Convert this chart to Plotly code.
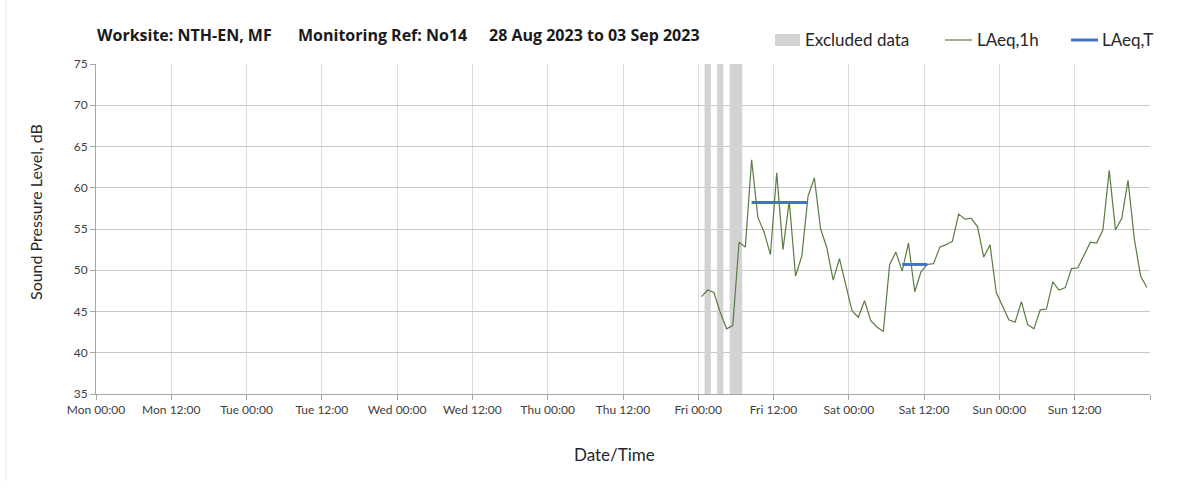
import plotly.graph_objects as go
from datetime import datetime, timedelta

# ---------------- data ----------------
start_day = datetime(2023, 8, 28)          # Monday
first_point = datetime(2023, 9, 1, 0, 30)  # Fri 00:30 (hourly values, mid-hour)

laeq_1h = [
    46.8, 47.6, 47.3, 44.9, 42.9, 43.3, 53.4, 52.8, 63.4, 56.4, 54.6, 51.9,
    61.8, 52.5, 58.4, 49.3, 51.7, 59.0, 61.2, 55.0, 52.7, 48.8, 51.4, 48.1,
    45.1, 44.3, 46.3, 43.9, 43.1, 42.6, 50.7, 52.2, 49.9, 53.3, 47.4, 49.8,
    50.7, 50.8, 52.8, 53.1, 53.5, 56.8, 56.2, 56.3, 55.3, 51.6, 53.1, 47.3,
    45.7, 44.0, 43.7, 46.2, 43.4, 42.9, 45.2, 45.3, 48.6, 47.6, 47.9, 50.2,
    50.3, 51.8, 53.4, 53.3, 54.9, 62.1, 54.9, 56.3, 60.9, 53.8, 49.3, 47.9,
]
times_1h = [first_point + timedelta(hours=i) for i in range(len(laeq_1h))]

laeq_t_start = ["2023-09-01 08:30", "2023-09-02 08:30"]
laeq_t_end = ["2023-09-01 17:30", "2023-09-02 12:30"]
laeq_t_values = [58.2, 50.7]

excluded_start = ["2023-09-01 01:00", "2023-09-01 03:00", "2023-09-01 05:00"]
excluded_end = ["2023-09-01 02:00", "2023-09-01 04:00", "2023-09-01 07:00"]

tick_vals = [start_day + timedelta(hours=12 * i) for i in range(15)]
tick_text = [t.strftime("%a %H:%M") for t in tick_vals[:-1]] + [""]

y_range = [35, 75]
y_ticks = list(range(35, 80, 5))

title_parts = ["Worksite: NTH-EN, MF", "Monitoring Ref: No14", "28 Aug 2023 to 03 Sep 2023"]
legend_names = ["Excluded data", "LAeq,1h", "LAeq,T"]

# ---------------- styling ----------------
W, H = 1203, 489
ML, MR, MT, MB = 96, 53, 64, 95
PW, PH = W - ML - MR, H - MT - MB
FONT = "Lato, 'Open Sans', sans-serif"
TFONT = "'Open Sans', Lato, sans-serif"
GREEN = "#5b7b45"
BLUE = "#4472C4"
GREY = "#d3d3d3"


def px_x(p):
    return (p - ML) / PW


def px_y(p):
    return (H - MB - p) / PH


fig = go.Figure()

for xs, xe in zip(excluded_start, excluded_end):
    fig.add_shape(type="rect", xref="x", yref="y", x0=xs, x1=xe,
                  y0=y_range[0], y1=y_range[1], fillcolor=GREY,
                  line_width=0, layer="between")

fig.add_trace(go.Scatter(x=times_1h, y=laeq_1h, mode="lines",
                         line=dict(color=GREEN, width=1.2),
                         name=legend_names[1], showlegend=False))

for xs, xe, v in zip(laeq_t_start, laeq_t_end, laeq_t_values):
    fig.add_trace(go.Scatter(x=[xs, xe], y=[v, v], mode="lines",
                             line=dict(color=BLUE, width=3),
                             name=legend_names[2], showlegend=False))

annotations = []
# title pieces
for txt, xp in zip(title_parts, [95, 296, 487]):
    annotations.append(dict(text="<b>%s</b>" % txt, x=px_x(xp), y=px_y(35),
                            xref="paper", yref="paper", xanchor="left",
                            yanchor="middle", showarrow=False,
                            font=dict(family=TFONT, size=16, color="#1a1a1a")))
# legend texts
for txt, xp in zip(legend_names, [803, 975, 1100]):
    annotations.append(dict(text=txt, x=px_x(xp), y=px_y(40),
                            xref="paper", yref="paper", xanchor="left",
                            yanchor="middle", showarrow=False,
                            font=dict(family=FONT, size=17, color="#262626")))
# axis titles
annotations.append(dict(text="Date/Time", x=px_x(614), y=px_y(454),
                        xref="paper", yref="paper", xanchor="center",
                        yanchor="middle", showarrow=False,
                        font=dict(family=FONT, size=17, color="#262626")))
annotations.append(dict(text="Sound Pressure Level, dB", x=px_x(35), y=px_y(212),
                        xref="paper", yref="paper", xanchor="center",
                        yanchor="middle", showarrow=False, textangle=-90,
                        font=dict(family=FONT, size=16, color="#262626")))

shapes = [
    # legend: excluded patch
    dict(type="rect", xref="paper", yref="paper", x0=px_x(775), x1=px_x(800),
         y0=px_y(46), y1=px_y(34), fillcolor=GREY, line_width=0),
    dict(type="line", xref="paper", yref="paper", x0=px_x(945), x1=px_x(972),
         y0=px_y(40), y1=px_y(40), line=dict(color=GREEN, width=1.2)),
    dict(type="line", xref="paper", yref="paper", x0=px_x(1071), x1=px_x(1098),
         y0=px_y(40), y1=px_y(40), line=dict(color=BLUE, width=3)),
    # faint outer border on the left
    dict(type="line", xref="paper", yref="paper", x0=px_x(6), x1=px_x(6),
         y0=px_y(0), y1=px_y(481), line=dict(color="#e6e6e6", width=1)),
]
for s in shapes:
    fig.add_shape(**s)

fig.update_layout(
    width=W, height=H,
    margin=dict(l=ML, r=MR, t=MT, b=MB),
    paper_bgcolor="white", plot_bgcolor="white",
    showlegend=False,
    annotations=annotations,
    font=dict(family=FONT, color="#404040"),
)
fig.update_xaxes(
    type="date", range=[tick_vals[0], tick_vals[-1]],
    tickmode="array", tickvals=tick_vals, ticktext=tick_text,
    showgrid=True, gridcolor="#dcdcdc", gridwidth=1,
    showline=True, linecolor="#a6a6a6", linewidth=1,
    ticks="outside", ticklen=5, tickcolor="#a6a6a6",
    tickfont=dict(family=FONT, size=12, color="#404040"),
    zeroline=False, fixedrange=True,
)
fig.update_yaxes(
    range=y_range, tickmode="array", tickvals=y_ticks,
    showgrid=True, gridcolor="#c8c8c8", gridwidth=1,
    showline=True, linecolor="#a6a6a6", linewidth=1,
    ticks="outside", ticklen=5, tickcolor="#a6a6a6",
    tickfont=dict(family=FONT, size=12, color="#404040"),
    zeroline=False, fixedrange=True,
)

fig.write_html("out.html", config={"displayModeBar": False},
               post_script="document.body.style.margin='0';")
